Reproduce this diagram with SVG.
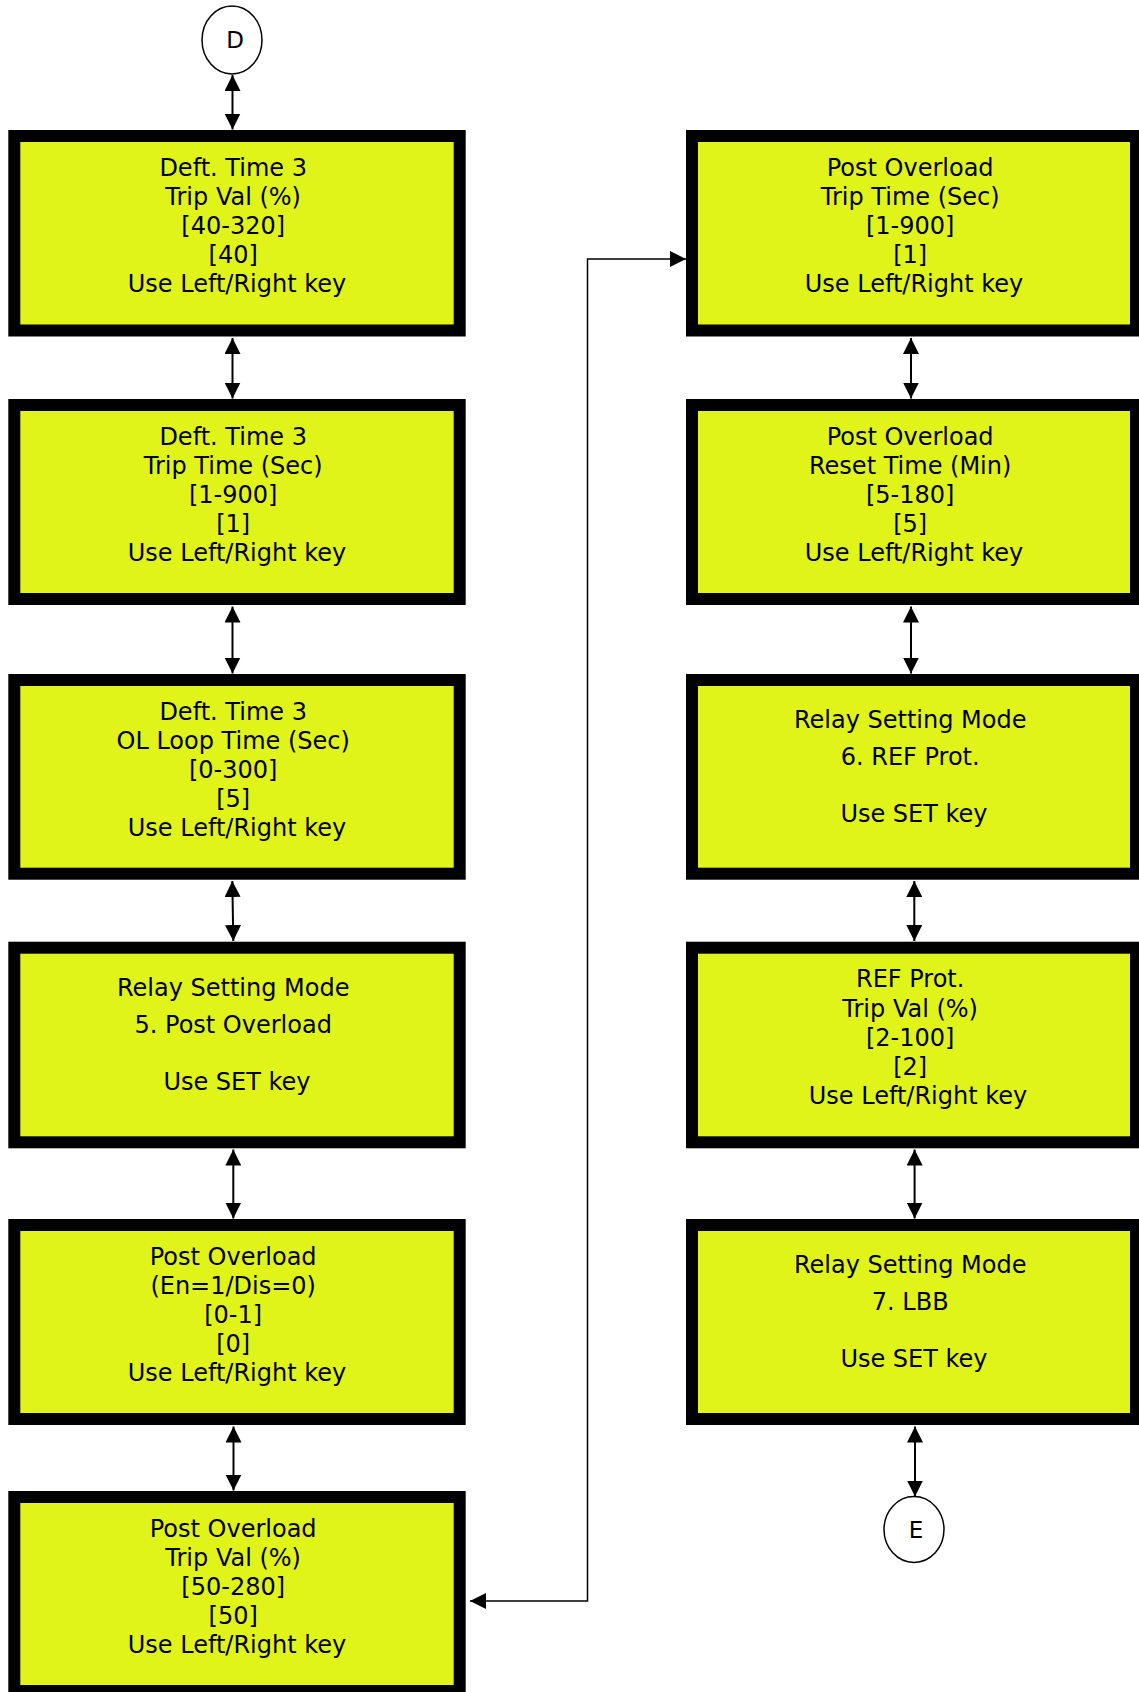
<svg xmlns="http://www.w3.org/2000/svg" width="1139" height="1692" viewBox="0 0 1139 1692">
  <style>
    .box { fill: #e1f419; stroke: #000; stroke-width: 12; }
    .conn { fill: none; stroke: #000; stroke-width: 2; }
    .thin { fill: none; stroke: #000; stroke-width: 1.5; }
    .term { fill: #fff; stroke: #000; stroke-width: 1.5; }
    .lbl { font-family: "DejaVu Sans", "Liberation Sans", sans-serif; font-size: 24px; fill: #000; text-anchor: middle; }
    .tl { font-family: "DejaVu Sans", "Liberation Sans", sans-serif; font-size: 23px; fill: #000; text-anchor: middle; }
  </style>
  <defs>
    <marker id="ah" viewBox="0 0 16 16" refX="16" refY="8" markerWidth="16" markerHeight="16" markerUnits="userSpaceOnUse" orient="auto-start-reverse">
      <path d="M0,0 L16,8 L0,16 z" fill="#000"/>
    </marker>
  </defs>
  <rect width="1139" height="1692" fill="#fff"/>

  <!-- connectors -->
  <g id="connectors">
    <line class="conn" x1="232.5" y1="75" x2="232.5" y2="129.5" marker-start="url(#ah)" marker-end="url(#ah)"/>
    <line class="conn" x1="232.5" y1="338" x2="232.5" y2="398.5" marker-start="url(#ah)" marker-end="url(#ah)"/>
    <line class="conn" x1="232.5" y1="606.5" x2="232.5" y2="673.5" marker-start="url(#ah)" marker-end="url(#ah)"/>
    <line class="conn" x1="232.3" y1="881" x2="233.3" y2="941" marker-start="url(#ah)" marker-end="url(#ah)"/>
    <line class="conn" x1="233.3" y1="1149.5" x2="233.3" y2="1218.5" marker-start="url(#ah)" marker-end="url(#ah)"/>
    <line class="conn" x1="233.5" y1="1426.5" x2="233.5" y2="1490.5" marker-start="url(#ah)" marker-end="url(#ah)"/>
    <line class="conn" x1="911" y1="338" x2="911" y2="398.5" marker-start="url(#ah)" marker-end="url(#ah)"/>
    <line class="conn" x1="911" y1="606.5" x2="911" y2="673.5" marker-start="url(#ah)" marker-end="url(#ah)"/>
    <line class="conn" x1="914.3" y1="881" x2="914.3" y2="941" marker-start="url(#ah)" marker-end="url(#ah)"/>
    <line class="conn" x1="914.6" y1="1149.5" x2="914.6" y2="1218.5" marker-start="url(#ah)" marker-end="url(#ah)"/>
    <line class="conn" x1="915" y1="1426.5" x2="915" y2="1496.5" marker-start="url(#ah)" marker-end="url(#ah)"/>
    <polyline class="thin" points="470,1601 587.5,1601 587.5,259 686,259" marker-start="url(#ah)" marker-end="url(#ah)"/>
  </g>

  <!-- terminals -->
  <g id="term-d">
    <ellipse class="term" cx="232" cy="40" rx="30" ry="34"/>
    <text class="tl" x="235" y="48">D</text>
  </g>
  <g id="term-e">
    <ellipse class="term" cx="914" cy="1529.5" rx="30" ry="33"/>
    <text class="tl" x="916" y="1538">E</text>
  </g>

  <!-- left column -->
  <g id="n-dt3-tripval">
    <rect class="box" x="14.3" y="136" width="445.4" height="194.5"/>
    <text class="lbl">
      <tspan x="237" y="175.7">Deft. Time 3</tspan>
      <tspan x="237" y="204.8">Trip Val (%)</tspan>
      <tspan x="237" y="233.9">[40-320]</tspan>
      <tspan x="237" y="263">[40]</tspan>
      <tspan x="237" y="292.1">Use Left/Right key</tspan>
    </text>
  </g>
  <g id="n-dt3-triptime">
    <rect class="box" x="14.3" y="405" width="445.4" height="194"/>
    <text class="lbl">
      <tspan x="237" y="444.7">Deft. Time 3</tspan>
      <tspan x="237" y="473.8">Trip Time (Sec)</tspan>
      <tspan x="237" y="502.9">[1-900]</tspan>
      <tspan x="237" y="532">[1]</tspan>
      <tspan x="237" y="561.1">Use Left/Right key</tspan>
    </text>
  </g>
  <g id="n-dt3-olloop">
    <rect class="box" x="14.3" y="680" width="445.4" height="193.7"/>
    <text class="lbl">
      <tspan x="237" y="719.7">Deft. Time 3</tspan>
      <tspan x="237" y="748.8">OL Loop Time (Sec)</tspan>
      <tspan x="237" y="777.9">[0-300]</tspan>
      <tspan x="237" y="807">[5]</tspan>
      <tspan x="237" y="836.1">Use Left/Right key</tspan>
    </text>
  </g>
  <g id="n-mode5">
    <rect class="box" x="14.3" y="947.7" width="445.4" height="194.6"/>
    <text class="lbl">
      <tspan x="237" y="996">Relay Setting Mode</tspan>
      <tspan x="237" y="1032.7">5. Post Overload</tspan>
      <tspan x="237" y="1090">Use SET key</tspan>
    </text>
  </g>
  <g id="n-po-enable">
    <rect class="box" x="14.3" y="1225" width="445.4" height="194"/>
    <text class="lbl">
      <tspan x="237" y="1264.7">Post Overload</tspan>
      <tspan x="237" y="1293.8">(En=1/Dis=0)</tspan>
      <tspan x="237" y="1322.9">[0-1]</tspan>
      <tspan x="237" y="1352">[0]</tspan>
      <tspan x="237" y="1381.1">Use Left/Right key</tspan>
    </text>
  </g>
  <g id="n-po-tripval">
    <rect class="box" x="14.3" y="1497" width="445.4" height="194"/>
    <text class="lbl">
      <tspan x="237" y="1536.7">Post Overload</tspan>
      <tspan x="237" y="1565.8">Trip Val (%)</tspan>
      <tspan x="237" y="1594.9">[50-280]</tspan>
      <tspan x="237" y="1624">[50]</tspan>
      <tspan x="237" y="1653.1">Use Left/Right key</tspan>
    </text>
  </g>

  <!-- right column -->
  <g id="n-po-triptime">
    <rect class="box" x="692" y="136" width="444" height="194.5"/>
    <text class="lbl">
      <tspan x="914" y="175.7">Post Overload</tspan>
      <tspan x="914" y="204.8">Trip Time (Sec)</tspan>
      <tspan x="914" y="233.9">[1-900]</tspan>
      <tspan x="914" y="263">[1]</tspan>
      <tspan x="914" y="292.1">Use Left/Right key</tspan>
    </text>
  </g>
  <g id="n-po-reset">
    <rect class="box" x="692" y="405" width="444" height="194"/>
    <text class="lbl">
      <tspan x="914" y="444.7">Post Overload</tspan>
      <tspan x="914" y="473.8">Reset Time (Min)</tspan>
      <tspan x="914" y="502.9">[5-180]</tspan>
      <tspan x="914" y="532">[5]</tspan>
      <tspan x="914" y="561.1">Use Left/Right key</tspan>
    </text>
  </g>
  <g id="n-mode6">
    <rect class="box" x="692" y="680" width="444" height="193.7"/>
    <text class="lbl">
      <tspan x="914" y="728.3">Relay Setting Mode</tspan>
      <tspan x="914" y="765">6. REF Prot.</tspan>
      <tspan x="914" y="822.3">Use SET key</tspan>
    </text>
  </g>
  <g id="n-ref-tripval">
    <rect class="box" x="692" y="947.7" width="444" height="194.6"/>
    <text class="lbl">
      <tspan x="914" y="987.4">REF Prot.</tspan>
      <tspan x="914" y="1016.5">Trip Val (%)</tspan>
      <tspan x="914" y="1045.6">[2-100]</tspan>
      <tspan x="914" y="1074.7">[2]</tspan>
      <tspan x="918" y="1103.8">Use Left/Right key</tspan>
    </text>
  </g>
  <g id="n-mode7">
    <rect class="box" x="692" y="1225" width="444" height="194"/>
    <text class="lbl">
      <tspan x="914" y="1273.3">Relay Setting Mode</tspan>
      <tspan x="914" y="1310">7. LBB</tspan>
      <tspan x="914" y="1367.3">Use SET key</tspan>
    </text>
  </g>
</svg>
